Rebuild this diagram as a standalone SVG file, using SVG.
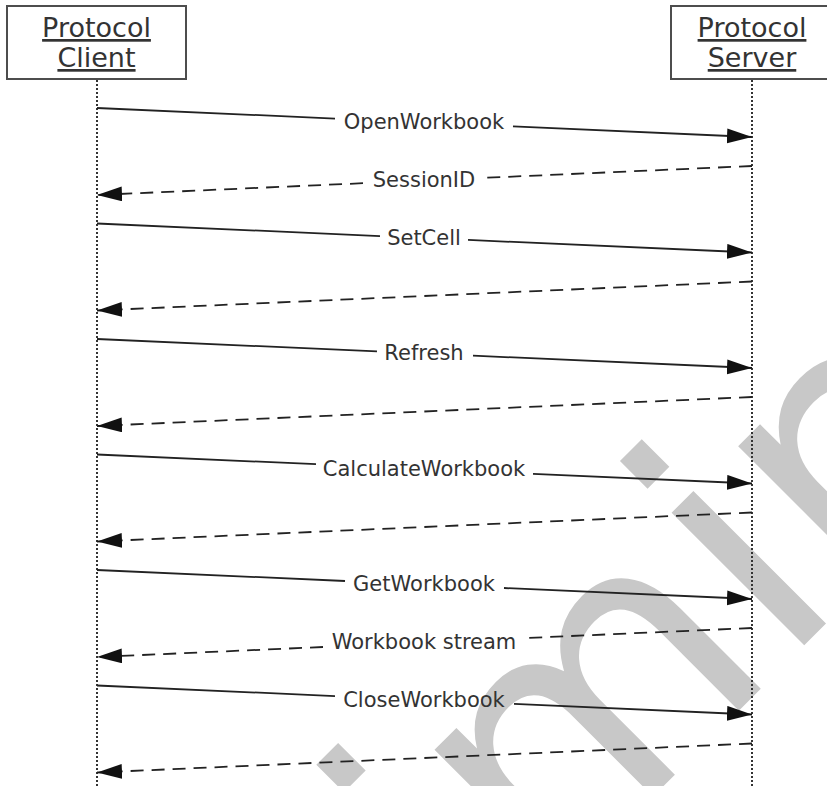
<svg xmlns="http://www.w3.org/2000/svg" width="827" height="786" viewBox="0 0 827 786">
<style>
.box{fill:#fff;stroke:#4d4d4d;stroke-width:2}
.title{font-family:"DejaVu Sans",sans-serif;font-size:27px;fill:#333;text-anchor:middle;text-decoration:underline}
.lbl{font-family:"DejaVu Sans",sans-serif;font-size:21px;fill:#333;text-anchor:middle}
.life{stroke:#333;stroke-width:2;stroke-dasharray:2 2;fill:none}
.msg{stroke:#222;stroke-width:1.8;fill:none}
.ret{stroke:#222;stroke-width:1.8;fill:none;stroke-dasharray:13 8}
.wm{font-family:"DejaVu Sans",sans-serif;font-size:343px;fill:#c8c8c8}
</style>
<defs>
<marker id="ah" markerUnits="userSpaceOnUse" markerWidth="26" markerHeight="16" refX="25" refY="7.5" orient="auto">
<path d="M0,0 L25,7.5 L0,15 z" fill="#111"/>
</marker>
</defs>
<rect width="827" height="786" fill="#fff"/>
<g id="watermark">
<text class="wm" transform="rotate(-45)" x="-990" y="1025">Preliminary</text>
</g>
<g id="client">
<rect class="box" x="7" y="6" width="179" height="73"/>
<text class="title" x="96.5" y="37">Protocol</text>
<text class="title" x="96.5" y="67">Client</text>
<line class="life" x1="97" y1="80" x2="97" y2="786"/>
</g>
<g id="server">
<rect class="box" x="671" y="6" width="170" height="73"/>
<text class="title" x="752" y="37">Protocol</text>
<text class="title" x="752" y="67">Server</text>
<line class="life" x1="752" y1="80" x2="752" y2="786"/>
</g>
<g id="connectors">
<path class="msg" d="M97,108 L335,118.54"/>
<path class="msg" d="M513,126.42 L752,137" marker-end="url(#ah)"/>
<text class="lbl" x="424" y="129">OpenWorkbook</text>
<path class="ret" d="M752,166 L485,177.82"/>
<path class="ret" d="M363,183.22 L97,195" marker-end="url(#ah)"/>
<text class="lbl" x="424" y="187">SessionID</text>
<path class="msg" d="M97,223.5 L380,236.03"/>
<path class="msg" d="M468,239.92 L752,252.5" marker-end="url(#ah)"/>
<text class="lbl" x="424" y="244.5">SetCell</text>
<path class="ret" d="M752,281.5 L97,310.5" marker-end="url(#ah)"/>
<path class="msg" d="M97,339 L377,351.4"/>
<path class="msg" d="M473,355.65 L752,368" marker-end="url(#ah)"/>
<text class="lbl" x="424" y="360">Refresh</text>
<path class="ret" d="M752,397 L97,426" marker-end="url(#ah)"/>
<path class="msg" d="M97,454.5 L316,464.2"/>
<path class="msg" d="M533,473.8 L752,483.5" marker-end="url(#ah)"/>
<text class="lbl" x="424" y="475.5">CalculateWorkbook</text>
<path class="ret" d="M752,512.5 L97,541.5" marker-end="url(#ah)"/>
<path class="msg" d="M97,570 L345,580.98"/>
<path class="msg" d="M504,588.02 L752,599" marker-end="url(#ah)"/>
<text class="lbl" x="424" y="591">GetWorkbook</text>
<path class="ret" d="M752,628 L526,638"/>
<path class="ret" d="M323,646.99 L97,657" marker-end="url(#ah)"/>
<text class="lbl" x="424" y="649">Workbook stream</text>
<path class="msg" d="M97,685.5 L335,696.04"/>
<path class="msg" d="M514,703.96 L752,714.5" marker-end="url(#ah)"/>
<text class="lbl" x="424" y="706.5">CloseWorkbook</text>
<path class="ret" d="M752,743.5 L97,772.5" marker-end="url(#ah)"/>
</g>
</svg>
